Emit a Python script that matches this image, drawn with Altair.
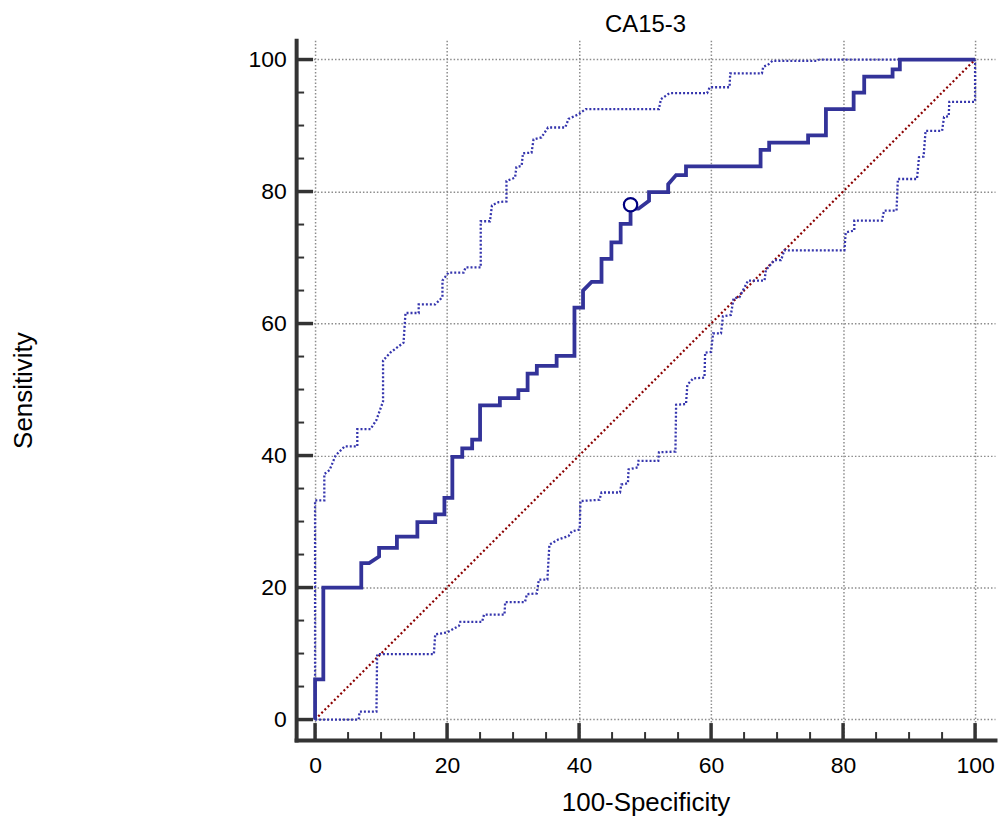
import altair as alt
import pandas as pd

TITLE = "CA15-3"
X_TITLE = "100-Specificity"
Y_TITLE = "Sensitivity"

# Main ROC curve (100-Specificity, Sensitivity)
ROC_X = [0, 0, 1.25, 1.25, 7.0, 7.0, 8.2, 9.7, 9.7, 12.4, 12.4, 15.5, 15.5, 18.2, 18.2,
         19.6, 19.6, 20.8, 20.8, 22.3, 22.3, 23.8, 23.8, 25.0, 25.0, 28.0, 28.0, 30.8, 30.8,
         32.2, 32.2, 33.6, 33.6, 36.6, 36.6, 39.3, 39.3, 40.6, 40.6, 41.9, 43.4, 43.4, 44.9,
         44.9, 46.3, 46.3, 47.8, 47.8, 49.0, 50.6, 50.6, 53.5, 53.5, 54.7, 56.2, 56.2, 67.5,
         67.5, 68.8, 68.8, 74.7, 74.7, 77.4, 77.4, 81.6, 81.6, 83.2, 83.2, 87.5, 87.5, 88.6,
         88.6, 100]
ROC_Y = [0, 6.1, 6.1, 20.0, 20.0, 23.7, 23.7, 24.7, 26.0, 26.0, 27.7, 27.7, 29.9, 29.9, 31.1,
         31.1, 33.6, 33.6, 39.8, 39.8, 41.1, 41.1, 42.4, 42.4, 47.6, 47.6, 48.7, 48.7, 49.9,
         49.9, 52.4, 52.4, 53.6, 53.6, 55.1, 55.1, 62.4, 62.4, 65.0, 66.3, 66.3, 69.8, 69.8,
         72.3, 72.3, 75.1, 75.1, 77.4, 77.4, 78.6, 79.9, 79.9, 81.1, 82.5, 82.5, 83.8, 83.8,
         86.3, 86.3, 87.4, 87.4, 88.5, 88.5, 92.5, 92.5, 95.0, 95.0, 97.4, 97.4, 98.5, 98.5,
         100, 100]

# Upper 95% confidence bound
UPPER_X = [0, 0, 1.4, 1.4, 2.2, 3.1, 4.5, 6.4, 6.4, 8.4, 9.3, 10.3, 10.3, 11.4, 13.4, 13.7,
           15.7, 15.7, 18.2, 19.3, 19.3, 20.2, 22.5, 22.8, 25.1, 25.1, 26.5, 26.8, 27.8, 29.0,
           29.0, 30.3, 30.5, 31.3, 31.5, 32.8, 33.1, 34.3, 35.3, 37.9, 38.4, 39.9, 41.0, 52.1,
           52.4, 53.7, 59.4, 59.8, 62.8, 62.9, 67.7, 67.9, 68.6, 69.3, 76.1, 76.4, 100]
UPPER_Y = [0, 33.2, 33.2, 37.2, 37.8, 40.0, 41.4, 41.4, 44.0, 44.0, 45.4, 48.2, 54.4, 55.6,
           57.1, 61.6, 61.6, 62.9, 62.9, 64.0, 66.5, 67.7, 67.7, 68.5, 68.5, 75.5, 75.5, 77.9,
           78.4, 78.5, 81.6, 82.1, 83.7, 83.9, 85.8, 85.9, 87.9, 88.2, 89.7, 89.7, 91.0, 91.7,
           92.5, 92.5, 94.0, 94.9, 94.9, 95.8, 95.8, 97.9, 97.9, 98.9, 99.2, 99.8, 99.8, 100, 100]

# Lower 95% confidence bound
LOWER_X = [0, 6.6, 6.75, 9.3, 9.4, 18.0, 18.2, 20.0, 21.8, 22.0, 25.3, 25.6, 28.7, 28.8, 31.8,
           32.1, 33.6, 33.9, 35.2, 35.5, 36.9, 38.4, 38.9, 40.1, 40.2, 43.1, 43.4, 46.2, 46.4,
           47.4, 47.5, 48.9, 49.0, 52.0, 52.1, 54.6, 54.7, 56.2, 56.4, 57.3, 59.0, 59.1, 60.0,
           60.3, 61.5, 61.8, 63.0, 63.4, 64.3, 65.6, 68.1, 68.3, 69.6, 70.6, 71.1, 80.2, 80.4,
           81.7, 81.7, 85.9, 86.2, 88.1, 88.3, 91.2, 91.5, 92.2, 92.5, 95.0, 95.3, 96.0, 96.1,
           100, 100]
LOWER_Y = [0, 0, 1.2, 1.2, 9.9, 9.9, 12.9, 13.2, 14.2, 14.8, 14.8, 15.9, 15.9, 17.8, 17.8,
           19.0, 19.1, 21.2, 21.2, 26.5, 27.3, 27.8, 28.5, 28.8, 33.1, 33.3, 34.4, 34.4, 35.6,
           35.8, 37.9, 38.2, 39.2, 39.2, 40.5, 40.6, 47.7, 47.8, 50.7, 51.7, 51.8, 55.6, 55.7,
           58.5, 58.5, 61.1, 61.3, 63.8, 64.0, 66.5, 66.5, 68.1, 69.6, 69.6, 71.1, 71.1, 73.8,
           74.1, 75.6, 75.6, 77.1, 77.1, 81.9, 81.9, 85.2, 85.3, 89.2, 89.2, 91.3, 91.4, 93.6,
           93.6, 100]

DIAG_X = [0, 100]
DIAG_Y = [0, 100]

CRIT_X = [47.8]
CRIT_Y = [78.0]

MAJOR_TICKS = [0, 20, 40, 60, 80, 100]
MINOR_TICKS = [5, 10, 15, 25, 30, 35, 45, 50, 55, 65, 70, 75, 85, 90, 95]

FONT = "Liberation Sans"
AXIS_COLOR = "#333333"


def path_df(xs, ys):
    return pd.DataFrame({"fpr": xs, "tpr": ys, "i": list(range(len(xs)))})


X_SCALE = alt.Scale(domain=[-2.87, 103.02], nice=False, zero=False)
Y_SCALE = alt.Scale(domain=[-3.10, 102.94], nice=False, zero=False)

common_axis = dict(
    values=MAJOR_TICKS, format="d", grid=True, gridColor="#8c8c8c",
    gridDash=[1.5, 2], gridWidth=1.5, domain=True, domainColor=AXIS_COLOR,
    domainWidth=4, domainCap="square", ticks=False, tickSize=0,
    labelFont=FONT, labelFontSize=23, labelColor="black",
    titleFont=FONT, titleFontSize=26, titleFontWeight="normal", titleColor="black",
    titleAlign="center", titleBaseline="alphabetic",
)
X_AXIS = alt.Axis(title=X_TITLE, labelPadding=15, titleX=350.5, titleY=71, **common_axis)
Y_AXIS = alt.Axis(title=Y_TITLE, labelPadding=10, titleX=-265, titleY=351,
                  titleAngle=270, **common_axis)


def xe(field="fpr"):
    return alt.X(f"{field}:Q", scale=X_SCALE, axis=X_AXIS)


def ye(field="tpr"):
    return alt.Y(f"{field}:Q", scale=Y_SCALE, axis=Y_AXIS)


diag = alt.Chart(path_df(DIAG_X, DIAG_Y)).mark_line(
    color="#8b0000", strokeWidth=2.2, strokeDash=[2, 2.5]
).encode(x=xe(), y=ye(), order="i:Q")

upper = alt.Chart(path_df(UPPER_X, UPPER_Y)).mark_line(
    color="#3535ad", strokeWidth=2.3, strokeDash=[2, 2]
).encode(x=xe(), y=ye(), order="i:Q")

lower = alt.Chart(path_df(LOWER_X, LOWER_Y)).mark_line(
    color="#3535ad", strokeWidth=2.3, strokeDash=[2, 2]
).encode(x=xe(), y=ye(), order="i:Q")

roc = alt.Chart(path_df(ROC_X, ROC_Y)).mark_line(
    color="#333399", strokeWidth=3.8
).encode(x=xe(), y=ye(), order="i:Q")

crit = alt.Chart(pd.DataFrame({"fpr": CRIT_X, "tpr": CRIT_Y})).mark_point(
    shape="circle", size=180, filled=True, fill="white", stroke="#000080",
    strokeWidth=2.2, opacity=1
).encode(x=xe(), y=ye())

ytick_major = alt.Chart(pd.DataFrame({"tpr": MAJOR_TICKS})).mark_rule(
    color=AXIS_COLOR, strokeWidth=3.5
).encode(y=ye(), x=alt.value(0), x2=alt.value(17))

ytick_minor = alt.Chart(pd.DataFrame({"tpr": MINOR_TICKS})).mark_rule(
    color=AXIS_COLOR, strokeWidth=2
).encode(y=ye(), x=alt.value(0), x2=alt.value(8))

xtick_major = alt.Chart(pd.DataFrame({"fpr": MAJOR_TICKS})).mark_rule(
    color=AXIS_COLOR, strokeWidth=3.5
).encode(x=xe(), y=alt.value(702), y2=alt.value(685))

xtick_minor = alt.Chart(pd.DataFrame({"fpr": MINOR_TICKS})).mark_rule(
    color=AXIS_COLOR, strokeWidth=2
).encode(x=xe(), y=alt.value(702), y2=alt.value(694))

chart = alt.layer(
    diag, upper, lower, roc, crit, ytick_major, ytick_minor, xtick_major, xtick_minor
).properties(
    width=701,
    height=702,
    title=alt.TitleParams(TITLE, font=FONT, fontSize=24, fontWeight="normal",
                          color="black", anchor="middle", offset=3),
    autosize=alt.AutoSizeParams(type="none"),
    padding={"left": 289, "top": 31, "right": 5, "bottom": 80},
).configure_view(stroke=None)

chart.save("out.html", embed_options={"renderer": "svg", "actions": False})
